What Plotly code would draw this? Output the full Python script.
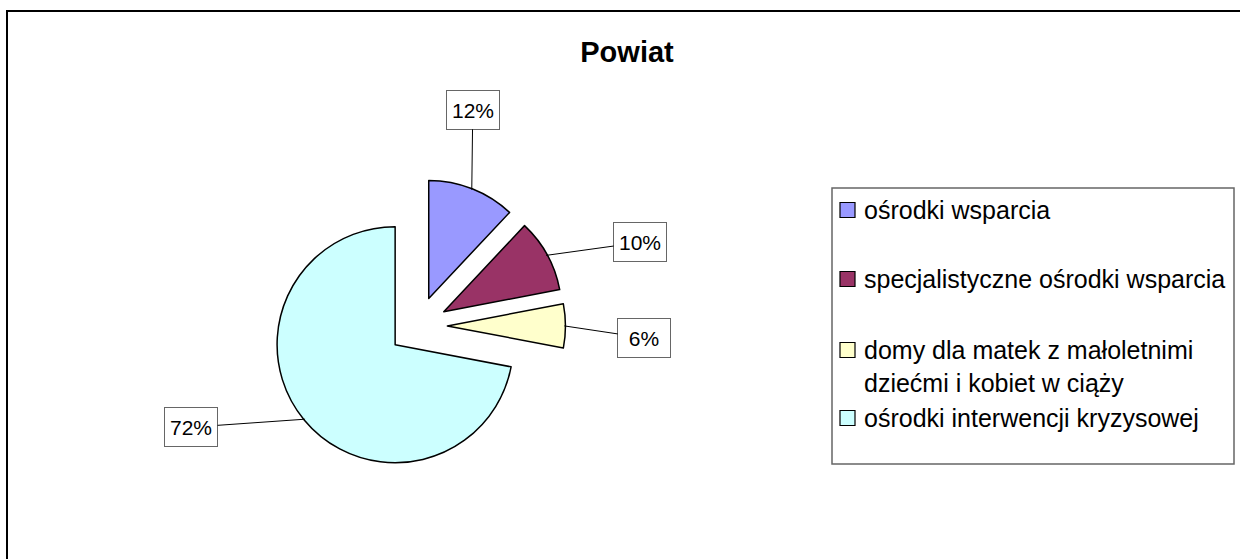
"""PIE CHART - POWIAT"""
import textwrap

import numpy as np
import plotly.graph_objects as go

# data
categories = [
    "ośrodki wsparcia",
    "specjalistyczne ośrodki wsparcia",
    "domy dla matek z małoletnimi dziećmi i kobiet w ciąży",
    "ośrodki interwencji kryzysowej",
]
shares = [12, 10, 6, 72]
colors = ["#9999FF", "#993366", "#FFFFCC", "#CCFFFF"]

W, H = 1240, 559
FONT = "Liberation Sans, Arial, sans-serif"
DOMAIN_X = [0.218, 0.456]
DOMAIN_Y = [0.153, 0.681]
PULL = 0.25

# offsets (px) of the percentage boxes from the leader-line tips
label_offsets = [(1, -80), (94, -13), (80, 12), (-114, 8)]

pie = go.Pie(
    labels=categories,
    values=shares,
    sort=False,
    direction="clockwise",
    rotation=0,
    pull=PULL,
    textinfo="none",
    hoverinfo="label+percent",
    marker=dict(colors=colors, line=dict(color="black", width=1.5)),
    domain=dict(x=DOMAIN_X, y=DOMAIN_Y),
    showlegend=False,
)

# same geometry plotly uses for the pie (margins are 0)
cx = W * sum(DOMAIN_X) / 2
cy = H * (1 - sum(DOMAIN_Y) / 2)
radius = min(W * (DOMAIN_X[1] - DOMAIN_X[0]), H * (DOMAIN_Y[1] - DOMAIN_Y[0])) / 2 / (1 + PULL)

total = sum(shares)
cum = np.cumsum([0] + shares[:-1])
annotations = []
for value, start, (ax, ay) in zip(shares, cum, label_offsets):
    theta = np.deg2rad(360 * (start + value / 2) / total)
    dist = radius * (PULL + 0.99)
    tip_x = cx + dist * np.sin(theta)
    tip_y = cy - dist * np.cos(theta)
    annotations.append(
        dict(
            x=tip_x / W,
            y=1 - tip_y / H,
            xref="paper",
            yref="paper",
            text=f"{round(100 * value / total)}%",
            showarrow=True,
            arrowhead=0,
            arrowwidth=1,
            arrowcolor="black",
            ax=ax,
            ay=ay,
            font=dict(family=FONT, size=21, color="black"),
            bgcolor="white",
            bordercolor="#666666",
            borderwidth=1,
            borderpad=5,
            width=42,
            height=28,
        )
    )

# manual legend
LEG_X0, LEG_X1, LEG_Y0, LEG_Y1 = 832, 1234, 188, 464
legend_y = [210, 279, 350, 418]
shapes = [
    # outer frame
    dict(type="rect", xref="paper", yref="paper",
         x0=7 / W, x1=1.02, y0=-0.02, y1=1 - 11 / H,
         line=dict(color="black", width=2), fillcolor="rgba(0,0,0,0)"),
    # legend box
    dict(type="rect", xref="paper", yref="paper",
         x0=LEG_X0 / W, x1=LEG_X1 / W, y0=1 - LEG_Y1 / H, y1=1 - LEG_Y0 / H,
         line=dict(color="#666666", width=1.5), fillcolor="white", layer="below"),
]
for name, color, yc in zip(categories, colors, legend_y):
    shapes.append(
        dict(type="rect", xref="paper", yref="paper",
             x0=840 / W, x1=855 / W, y0=1 - (yc + 7.5) / H, y1=1 - (yc - 7.5) / H,
             line=dict(color="black", width=1.2), fillcolor=color)
    )
    annotations.append(
        dict(
            x=862 / W,
            y=1 - (yc - 16) / H,
            xref="paper",
            yref="paper",
            xanchor="left",
            yanchor="top",
            align="left",
            text="<br>".join(textwrap.wrap(name, 32)),
            showarrow=False,
            font=dict(family=FONT, size=25, color="black"),
        )
    )

layout = go.Layout(
    width=W,
    height=H,
    margin=dict(t=0, l=0, r=0, b=0),
    paper_bgcolor="white",
    plot_bgcolor="white",
    title=dict(
        text="<b>Powiat</b>",
        x=627 / W,
        xanchor="center",
        y=1 - 52 / H,
        yanchor="middle",
        font=dict(family=FONT, size=29, color="black"),
    ),
    shapes=shapes,
    annotations=annotations,
)

fig = go.Figure([pie], layout)
# drop the default 8px body margin so the figure sits at the page origin
fig.write_html(
    "out.html",
    config={"displayModeBar": False},
    post_script="document.body.style.margin='0';",
)
